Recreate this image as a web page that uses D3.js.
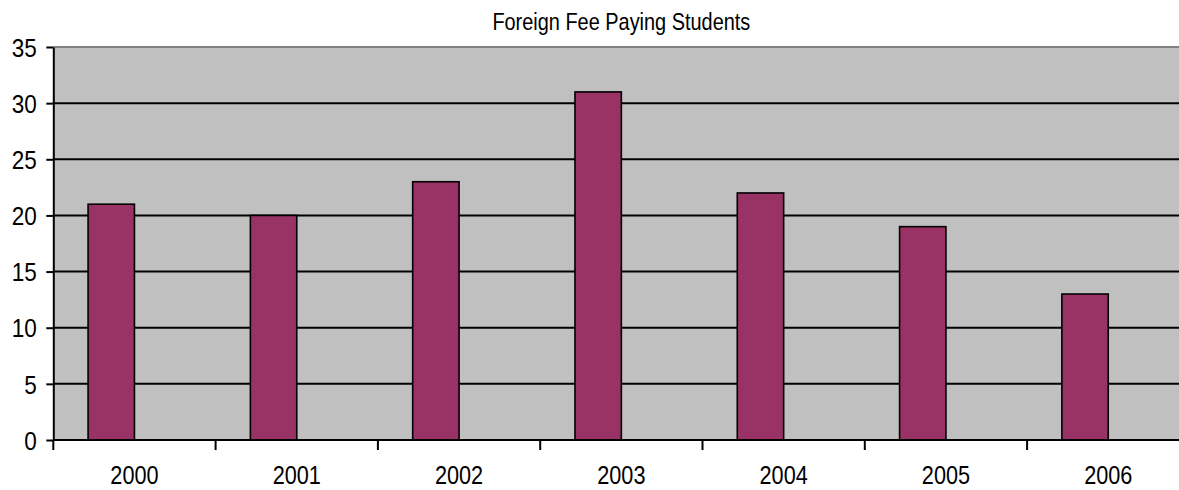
<!DOCTYPE html>
<html><head><meta charset="utf-8">
<script src="https://cdn.jsdelivr.net/npm/d3@7"></script>
<style>body{margin:0;background:#fff;}svg{display:block;}</style>
</head><body>
<svg id="c" width="1179" height="490"></svg>
<script>
const categories = ["2000","2001","2002","2003","2004","2005","2006"];
const values = [21,20,23,31,22,19,13];
const yTicks = [0,5,10,15,20,25,30,35];
const title = "Foreign Fee Paying Students";

const svg = d3.select("#c");
const pLeft = 53.3, pTop = 47, pBottom = 440, band = 162.3;
const pRight = pLeft + band * categories.length;
const sx = 0.85, font = "Liberation Sans, Arial, sans-serif";

const x = d3.scaleBand().domain(categories).range([pLeft, pRight]).padding(0);
const y = d3.scaleLinear().domain([0, 35]).range([pBottom, pTop]);
const bw = band / 3.5;

svg.append("rect").attr("x", pLeft).attr("y", pTop).attr("width", pRight - pLeft).attr("height", pBottom - pTop).attr("fill", "#C0C0C0");

// gridlines
svg.append("g").selectAll("line").data(yTicks.filter(d => d > 0 && d < 35)).join("line")
  .attr("x1", pLeft).attr("x2", pRight).attr("y1", d => y(d)).attr("y2", d => y(d))
  .attr("stroke", "#000").attr("stroke-width", 2);
// top border
svg.append("line").attr("x1", pLeft).attr("x2", pRight).attr("y1", pTop).attr("y2", pTop).attr("stroke", "#808080").attr("stroke-width", 2);

// bars
svg.append("g").selectAll("rect").data(values).join("rect")
  .attr("x", (d, i) => x(categories[i]) + bw * 0.75)
  .attr("y", d => y(d))
  .attr("width", bw)
  .attr("height", d => pBottom - y(d))
  .attr("fill", "#993366").attr("stroke", "#000").attr("stroke-width", 1.6);

// y axis
const yAxis = d3.axisLeft(y).tickValues(yTicks).tickSize(7).tickPadding(10).tickSizeOuter(0);
const gy = svg.append("g").attr("transform", `translate(${pLeft},0)`).call(yAxis);
gy.select(".domain").attr("stroke-width", 2);
gy.selectAll(".tick line").attr("stroke-width", 2);
gy.selectAll("text").attr("font-family", font).attr("font-size", 26.5).attr("fill", "#000")
  .attr("x", -16.5 / sx).attr("dy", "0.35em").attr("transform", `scale(${sx},1)`);

// x axis
const xTickPos = d3.range(categories.length).map(i => pLeft + i * band);
const gx = svg.append("g");
gx.append("line").attr("x1", pLeft).attr("x2", pRight).attr("y1", pBottom).attr("y2", pBottom).attr("stroke", "#000").attr("stroke-width", 2);
gx.selectAll("line.t").data(xTickPos).join("line").attr("class", "t")
  .attr("x1", d => d).attr("x2", d => d).attr("y1", pBottom).attr("y2", pBottom + 10).attr("stroke", "#000").attr("stroke-width", 2);
gx.selectAll("text").data(categories).join("text")
  .attr("x", d => (x(d) + band / 2) / sx).attr("y", 484).attr("text-anchor", "middle")
  .attr("transform", `scale(${sx},1)`)
  .attr("font-family", font).attr("font-size", 25.5).text(d => d);

// title
const tx = (pLeft + pRight) / 2, ts = 0.83;
svg.append("text").attr("x", tx / ts).attr("y", 30).attr("text-anchor", "middle")
  .attr("font-family", font).attr("font-size", 24)
  .attr("transform", `scale(${ts},1)`)
  .text(title);
</script>
</body></html>
